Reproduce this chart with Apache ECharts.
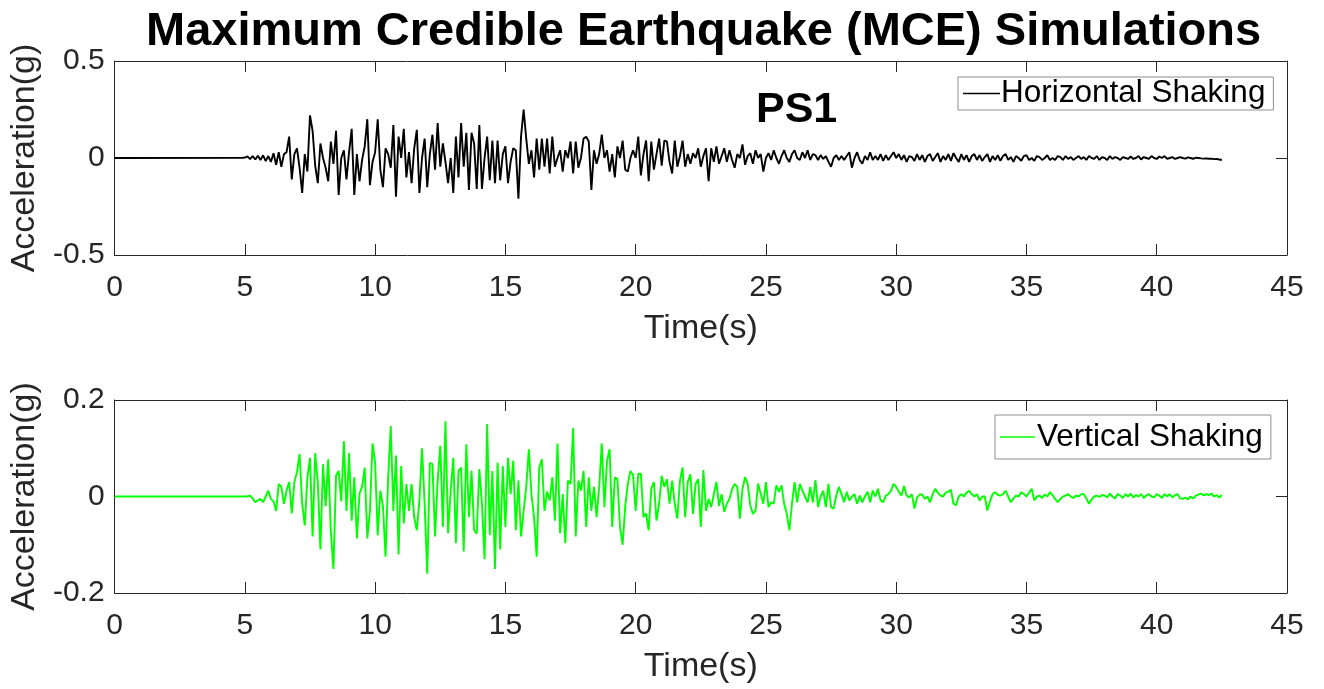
<!DOCTYPE html>
<html>
<head>
<meta charset="utf-8">
<title>Maximum Credible Earthquake (MCE) Simulations</title>
<script src="https://cdn.jsdelivr.net/npm/echarts@6/dist/echarts.min.js"></script>
<style>
  html, body { margin: 0; padding: 0; background: #ffffff; }
  #chart { width: 1324px; height: 689px; }
</style>
</head>
<body>
<div id="chart"></div>
<script>
// Record PS1: acceleration sampled every 0.1 s from 5.0 s to 42.5 s (quiet before 5 s).
const startTime = 5.0;
const sampleStep = 0.1;
const preEventTimes = [0, 4.9];
const preEventHorizontal = [0, 0.001];
const preEventVertical = [0, 0.0];

// Horizontal shaking (g), one row per second
const horizontalAccel = [
  0.002, 0.008, -0.006, 0.01, -0.008, 0.012, -0.01, 0.014, -0.016, 0.01,
  -0.02, 0.025, -0.035, 0.03, -0.045, 0.02, 0.03, 0.11, -0.11, 0.02,
  0.05, -0.05, -0.18, 0.02, -0.07, 0.22, 0.14, -0.04, -0.13, 0.075,
  0.0, -0.05, -0.12, 0.085, -0.03, 0.14, -0.19, 0.0, 0.04, -0.11,
  0.03, 0.15, -0.19, 0.02, -0.12, -0.01, 0.06, 0.2, -0.14, -0.02,
  0.03, 0.2, -0.06, -0.15, 0.05, 0.02, -0.05, 0.17, -0.2, 0.11,
  0.0, 0.15, -0.1, 0.03, -0.13, 0.05, 0.145, -0.18, 0.0, 0.1,
  -0.15, 0.02, 0.12, -0.06, 0.18, -0.045, 0.075, -0.02, -0.13, 0.0,
  -0.18, 0.11, -0.1, 0.18, -0.045, 0.13, -0.165, 0.13, 0.075, -0.16,
  0.17, -0.16, 0.0, 0.11, -0.115, 0.09, -0.13, 0.09, -0.115, 0.02,
  0.06, -0.13, -0.02, 0.05, 0.04, -0.21, 0.11, 0.25, 0.1, -0.03,
  0.04, -0.1, 0.1, -0.06, 0.1, -0.045, 0.1, -0.08, 0.11, -0.045,
  0.0, 0.04, -0.07, 0.04, 0.0, 0.085, -0.08, 0.085, -0.05, 0.0,
  0.1, 0.11, 0.085, -0.165, 0.04, -0.03, 0.02, 0.12, 0.0, 0.04,
  -0.07, 0.02, -0.1, 0.06, 0.0, 0.09, -0.06, -0.07, 0.0, 0.04,
  0.0, 0.11, -0.09, 0.02, 0.09, -0.12, 0.085, -0.06, 0.02, 0.1,
  -0.04, 0.09, 0.085, -0.02, -0.08, 0.09, -0.045, 0.01, 0.09, -0.045,
  0.02, -0.03, 0.025, 0.0, 0.05, -0.045, 0.01, 0.05, -0.12, 0.05,
  -0.02, 0.06, -0.03, 0.01, 0.05, -0.02, 0.04, -0.01, -0.05, 0.02,
  0.0, 0.07, -0.035, 0.01, 0.025, -0.03, 0.04, 0.0, 0.02, -0.07,
  0.0, 0.025, -0.01, 0.04, 0.0, -0.03, 0.01, 0.04, 0.0, -0.02,
  0.02, 0.04, 0.0, -0.01, 0.03, 0.0, 0.04, -0.01, 0.02, 0.015,
  -0.01, 0.015, -0.005, 0.01, -0.02, -0.045, 0.0, 0.015, -0.01, 0.01,
  -0.01, 0.01, 0.03, -0.05, 0.0, 0.03, -0.01, -0.03, 0.01, -0.01,
  0.03, -0.01, 0.01, -0.01, 0.02, -0.015, 0.015, -0.01, 0.01, 0.03,
  0.0, 0.02, -0.01, 0.015, -0.02, 0.01, 0.005, -0.015, 0.02, -0.01,
  0.015, -0.02, 0.01, 0.02, -0.015, 0.005, 0.025, -0.02, 0.01, -0.01,
  0.02, -0.015, 0.025, 0.0, -0.02, 0.02, -0.01, 0.015, -0.02, 0.01,
  0.02, -0.01, 0.015, -0.015, 0.005, 0.02, -0.02, 0.01, -0.01, 0.015,
  -0.015, 0.01, 0.02, -0.01, 0.005, -0.02, 0.01, 0.0, -0.015, 0.01,
  0.015, -0.01, 0.0, -0.015, 0.01, 0.005, -0.01, 0.0, 0.015, -0.01,
  0.0, -0.01, 0.01, 0.005, -0.01, 0.01, -0.005, 0.005, -0.01, 0.0,
  0.01, -0.005, 0.005, -0.01, 0.01, 0.0, -0.005, 0.01, -0.01, 0.005,
  0.0, -0.01, 0.01, -0.005, 0.005, 0.0, -0.01, 0.005, 0.0, -0.005,
  0.008, -0.005, 0.0, 0.01, -0.008, 0.005, 0.0, -0.005, 0.01, 0.0,
  -0.005, 0.008, 0.0, 0.01, -0.005, 0.0, 0.005, -0.005, 0.0, 0.005,
  0.0, -0.003, 0.003, 0.0, -0.004, 0.002, 0.0, -0.002, -0.003, -0.002,
  -0.004, -0.003, -0.006, -0.005, -0.008, -0.01
];

// Vertical shaking (g), one row per second
const verticalAccel = [
  0.0, 0.0, 0.002, -0.004, -0.012, -0.008, -0.005, -0.012, 0.0, 0.012,
  -0.005, -0.01, -0.03, 0.026, 0.02, -0.015, 0.012, 0.03, -0.035, 0.03,
  0.05, 0.088, -0.015, -0.06, 0.04, 0.08, -0.083, 0.09, 0.03, -0.11,
  0.067, -0.02, 0.077, -0.073, -0.15, 0.043, 0.053, -0.01, 0.115, -0.03,
  0.09, -0.05, 0.04, -0.087, 0.006, 0.02, 0.06, -0.087, -0.032, 0.11,
  0.07, -0.08, 0.012, -0.02, -0.125, 0.04, 0.146, -0.03, 0.085, -0.12,
  0.063, -0.056, 0.026, -0.03, 0.026, -0.043, -0.07, -0.008, 0.1, -0.015,
  -0.16, 0.07, 0.067, -0.083, 0.033, 0.105, -0.063, 0.156, -0.076, 0.012,
  0.08, -0.097, 0.053, 0.06, -0.114, 0.108, -0.043, 0.053, -0.07, -0.077,
  0.057, -0.015, -0.13, 0.15, -0.08, 0.053, -0.15, 0.07, -0.11, 0.063,
  -0.063, 0.08, 0.005, 0.074, -0.07, 0.033, -0.083, -0.03, 0.02, 0.098,
  0.005, -0.043, -0.125, 0.06, 0.077, -0.03, 0.01, -0.008, 0.04, -0.05,
  0.11, -0.076, 0.005, -0.097, 0.033, 0.026, 0.142, -0.083, 0.033, 0.012,
  0.053, -0.063, 0.04, -0.03, 0.02, -0.043, 0.02, 0.11, -0.022, 0.074,
  0.098, -0.063, 0.04, 0.036, -0.063, -0.1, -0.02, 0.026, 0.053, 0.045,
  -0.03, 0.047, 0.047, -0.043, -0.035, -0.07, 0.016, 0.03, -0.05, -0.015,
  0.043, 0.02, 0.036, -0.015, 0.033, -0.015, -0.046, 0.033, 0.06, -0.043,
  0.03, 0.046, -0.036, 0.026, 0.036, -0.063, 0.055, -0.03, -0.005, -0.022,
  0.005, 0.03, -0.02, 0.005, -0.032, -0.015, -0.005, 0.015, 0.026, 0.02,
  -0.046, 0.016, 0.04, 0.026, -0.018, -0.036, -0.03, 0.027, 0.005, -0.015,
  0.03, -0.022, -0.012, -0.015, 0.023, 0.01, 0.023, -0.015, -0.036, -0.07,
  -0.015, 0.03, -0.012, 0.026, 0.012, 0.0, -0.012, 0.02, -0.012, 0.034,
  -0.022, 0.0, 0.012, -0.022, 0.026, -0.022, -0.025, 0.002, 0.02, 0.005,
  -0.012, 0.01, -0.008, 0.0, 0.005, -0.015, 0.002, -0.012, 0.0, 0.01,
  -0.012, 0.012, 0.0, 0.016, -0.008, -0.012, 0.002, 0.005, 0.012, 0.026,
  0.02, 0.01, 0.002, 0.022, 0.002, -0.002, 0.005, -0.025, -0.002, 0.004,
  0.004, -0.005, 0.0, -0.012, 0.005, 0.016, 0.008, 0.002, 0.0, 0.008,
  0.01, 0.014, -0.015, -0.018, 0.0, 0.005, 0.0, 0.008, 0.012, 0.005,
  0.0, 0.005, -0.008, 0.0, 0.0, -0.029, -0.01, 0.005, 0.009, 0.003,
  0.002, 0.005, 0.012, 0.0, -0.012, -0.004, 0.002, 0.0, 0.009, 0.005,
  0.0, 0.008, 0.016, -0.008, 0.0, 0.002, -0.003, 0.004, 0.0, 0.009,
  0.003, -0.005, -0.012, -0.005, 0.0, 0.002, 0.005, 0.0, -0.003, 0.002,
  0.0, 0.005, 0.005, -0.004, -0.015, -0.006, 0.0, 0.002, -0.001, 0.003,
  0.002, -0.002, 0.006, 0.0, -0.004, 0.005, 0.002, -0.003, 0.005, 0.0,
  0.006, -0.002, 0.003, 0.0, 0.005, -0.003, 0.002, 0.005, 0.0, -0.002,
  0.005, 0.002, -0.003, 0.005, 0.0, 0.005, -0.002, 0.003, 0.005, -0.004,
  -0.005, -0.002, -0.006, 0.0, -0.004, 0.002, 0.004, 0.006, 0.002, 0.005,
  0.003, 0.006, 0.0, 0.003, -0.002, 0.003
];

const timeTicks = [0, 5, 10, 15, 20, 25, 30, 35, 40, 45];
const horizontalTicks = [-0.5, 0, 0.5];
const verticalTicks = [-0.2, 0, 0.2];

function buildSeries(preValues, values) {
  const pts = preEventTimes.map((t, i) => [t, preValues[i]]);
  values.forEach((v, i) => {
    pts.push([+(startTime + i * sampleStep).toFixed(2), v]);
  });
  return pts;
}

const FONT = '"Liberation Sans", Arial, Helvetica, sans-serif';
const INK = '#262626';

function xAxisBase(gridIndex, showLabels) {
  return {
    type: 'value', gridIndex: gridIndex,
    min: timeTicks[0], max: timeTicks[timeTicks.length - 1], interval: 5,
    position: showLabels ? 'bottom' : 'top',
    name: showLabels ? 'Time(s)' : '',
    nameLocation: 'middle', nameGap: 57,
    nameTextStyle: { fontFamily: FONT, fontSize: 34, color: INK },
    axisLine: { show: true, onZero: false, lineStyle: { color: INK, width: 1 } },
    axisTick: { show: true, inside: true, length: 11, lineStyle: { color: INK, width: 1 } },
    axisLabel: { show: showLabels, fontFamily: FONT, fontSize: 30, color: INK, margin: 18 },
    splitLine: { show: false }
  };
}

function yAxisBase(gridIndex, ticks, left) {
  const step = ticks[1] - ticks[0];
  return {
    type: 'value', gridIndex: gridIndex,
    min: ticks[0], max: ticks[ticks.length - 1], interval: step,
    position: left ? 'left' : 'right',
    name: left ? 'Acceleration(g)' : '',
    nameLocation: 'middle', nameGap: 69, nameRotate: 90,
    nameTextStyle: { fontFamily: FONT, fontSize: 34, color: INK },
    axisLine: { show: true, onZero: false, lineStyle: { color: INK, width: 1 } },
    axisTick: { show: true, inside: true, length: 11, lineStyle: { color: INK, width: 1 } },
    axisLabel: {
      show: left, fontFamily: FONT, fontSize: 30, color: INK, margin: 10,
      formatter: v => (Math.abs(v) < 1e-9 ? '0' : String(+v.toFixed(2)))
    },
    splitLine: { show: false }
  };
}

const chart = echarts.init(document.getElementById('chart'), null, { renderer: 'canvas' });

chart.setOption({
  animation: false,
  backgroundColor: '#ffffff',
  title: [
    {
      text: 'Maximum Credible Earthquake (MCE) Simulations',
      left: 141, top: 4,
      textStyle: { fontFamily: FONT, fontSize: 47, fontWeight: 'bold', color: '#000' }
    },
    {
      text: 'PS1',
      left: 751, top: 84,
      textStyle: { fontFamily: FONT, fontSize: 43, fontWeight: 'bold', color: '#000' }
    }
  ],
  grid: [
    { left: 114, top: 61, width: 1173, height: 194, containLabel: false },
    { left: 114, top: 400, width: 1173, height: 193, containLabel: false }
  ],
  legend: [
    {
      data: ['Horizontal Shaking'],
      left: 958, top: 77,
      orient: 'horizontal',
      icon: 'rect',
      padding: [0, 8, 0, 5],
      itemWidth: 37, itemHeight: 1.5, itemGap: 0,
      borderColor: '#8f8f8f', borderWidth: 1, backgroundColor: '#ffffff',
      textStyle: { fontFamily: FONT, fontSize: 31.5, color: '#000', lineHeight: 33, padding: [0, 0, 0, -4] }
    },
    {
      data: ['Vertical Shaking'],
      left: 995, top: 415,
      orient: 'horizontal',
      icon: 'rect',
      padding: [0, 8, 0, 5],
      itemWidth: 35, itemHeight: 1.5, itemGap: 0,
      borderColor: '#8f8f8f', borderWidth: 1, backgroundColor: '#ffffff',
      textStyle: { fontFamily: FONT, fontSize: 31.5, color: '#000', lineHeight: 44, padding: [0, 0, 0, -3] }
    }
  ],
  xAxis: [
    xAxisBase(0, true),
    xAxisBase(0, false),
    xAxisBase(1, true),
    xAxisBase(1, false)
  ],
  yAxis: [
    yAxisBase(0, horizontalTicks, true),
    yAxisBase(0, horizontalTicks, false),
    yAxisBase(1, verticalTicks, true),
    yAxisBase(1, verticalTicks, false)
  ],
  series: [
    {
      name: 'Horizontal Shaking', type: 'line',
      xAxisIndex: 0, yAxisIndex: 0,
      data: buildSeries(preEventHorizontal, horizontalAccel),
      showSymbol: false, symbol: 'none', smooth: false,
      lineStyle: { color: '#000000', width: 1.9 },
      itemStyle: { color: '#000000' },
      z: 3
    },
    {
      name: 'Vertical Shaking', type: 'line',
      xAxisIndex: 2, yAxisIndex: 2,
      data: buildSeries(preEventVertical, verticalAccel),
      showSymbol: false, symbol: 'none', smooth: false,
      lineStyle: { color: '#00ff00', width: 1.9 },
      itemStyle: { color: '#00ff00' },
      z: 3
    }
  ]
});
</script>
</body>
</html>
